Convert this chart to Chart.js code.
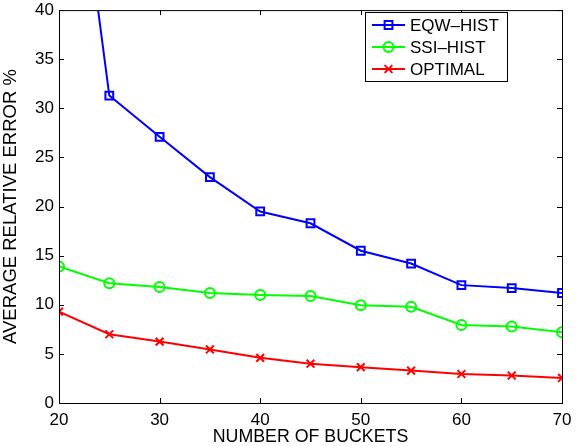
<!DOCTYPE html>
<html>
<head>
<meta charset="utf-8">
<script src="https://cdn.jsdelivr.net/npm/chart.js@4.4.1/dist/chart.umd.min.js"></script>
<style>
  html, body { margin: 0; padding: 0; background: #fff; }
  #wrap { width: 578px; height: 446px; }
</style>
</head>
<body>
<div id="wrap"><canvas id="myChart" width="578" height="446"></canvas></div>
<script>
// numero di bucket (asse x)
var buckets = [20, 25, 30, 35, 40, 45, 50, 55, 60, 65, 70];

// errore relativo medio % per ogni metodo
var eqwHist = [70.4, 31.3, 27.1, 23.0, 19.5, 18.3, 15.5, 14.2, 12.0, 11.7, 11.2];
var ssiHist = [13.9, 12.2, 11.8, 11.2, 11.0, 10.9, 9.95, 9.8, 7.95, 7.8, 7.2];
var optimal = [9.3, 7.0, 6.25, 5.45, 4.6, 4.0, 3.65, 3.3, 2.95, 2.8, 2.55];

var nomiSerie = ['EQW\u2013HIST', 'SSI\u2013HIST', 'OPTIMAL'];

var xTicks = [20, 30, 40, 50, 60, 70];
var yTicks = [0, 5, 10, 15, 20, 25, 30, 35, 40];

var FONT = 'Liberation Sans, Arial, Helvetica, sans-serif';

function punti(valori) {
    return buckets.map(function (b, i) { return { x: b, y: valori[i] }; });
}

// box, tacche interne e legenda in stile MATLAB
var boxPlugin = {
    id: 'boxPlugin',
    afterDraw: function (chart) {
        var ctx = chart.ctx;
        var a = chart.chartArea;
        var xs = chart.scales.x, ys = chart.scales.y;
        ctx.save();
        ctx.strokeStyle = '#000';
        ctx.lineWidth = 1;
        ctx.strokeRect(a.left + 0.5, a.top + 0.5, a.right - a.left, a.bottom - a.top);
        ctx.beginPath();
        xTicks.forEach(function (t) {
            var px = Math.round(xs.getPixelForValue(t)) + 0.5;
            ctx.moveTo(px, a.bottom); ctx.lineTo(px, a.bottom - 5);
            ctx.moveTo(px, a.top); ctx.lineTo(px, a.top + 5);
        });
        yTicks.forEach(function (t) {
            var py = Math.round(ys.getPixelForValue(t)) + 0.5;
            ctx.moveTo(a.left, py); ctx.lineTo(a.left + 5, py);
            ctx.moveTo(a.right, py); ctx.lineTo(a.right - 5, py);
        });
        ctx.stroke();

        // legenda
        var lx = 365, ly = 12, lw = 142, lh = 69;
        ctx.fillStyle = '#fff';
        ctx.fillRect(lx, ly, lw, lh);
        ctx.strokeRect(lx + 0.5, ly + 0.5, lw, lh);
        ctx.font = '17px ' + FONT;
        ctx.textBaseline = 'middle';
        chart.data.datasets.forEach(function (ds, i) {
            var cy = ly + 13 + i * 22;
            ctx.strokeStyle = ds.borderColor;
            ctx.lineWidth = 2;
            ctx.beginPath();
            ctx.moveTo(lx + 7, cy); ctx.lineTo(lx + 40, cy);
            ctx.stroke();
            ctx.fillStyle = 'rgba(0,0,0,0)';
            Chart.helpers.drawPoint(ctx, {
                pointStyle: ds.pointStyle,
                radius: ds.pointRadius,
                rotation: 0,
                borderWidth: 2
            }, lx + 23.5, cy);
            ctx.fillStyle = '#000';
            ctx.fillText(ds.label, lx + 45, cy + 1);
        });
        ctx.restore();
    }
};

function serie(label, valori, colore, stile, raggio) {
    return {
        label: label,
        data: punti(valori),
        borderColor: colore,
        backgroundColor: 'rgba(0,0,0,0)',
        borderWidth: 2,
        pointStyle: stile,
        pointRadius: raggio,
        pointBorderWidth: 2,
        pointBorderColor: colore,
        pointBackgroundColor: 'rgba(0,0,0,0)',
        tension: 0
    };
}

var ctx = document.getElementById('myChart').getContext('2d');

var myChart = new Chart(ctx, {
    type: 'line',
    data: {
        datasets: [
            serie(nomiSerie[0], eqwHist, '#0000ff', 'rect', 5.5),
            serie(nomiSerie[1], ssiHist, '#00ff00', 'circle', 5),
            serie(nomiSerie[2], optimal, '#ff0000', 'crossRot', 5.5)
        ]
    },
    options: {
        responsive: false,
        animation: false,
        events: [],
        layout: { padding: { top: 0, right: 16, left: 0, bottom: 0 } },
        plugins: {
            legend: { display: false },
            tooltip: { enabled: false }
        },
        scales: {
            x: {
                type: 'linear',
                min: 20,
                max: 70,
                afterBuildTicks: function (scale) {
                    scale.ticks = xTicks.map(function (v) { return { value: v }; });
                },
                afterFit: function (scale) {
                    scale.height = 43;
                    scale.paddingLeft = 0;
                    scale.paddingRight = 0;
                },
                grid: { display: false, drawTicks: false },
                border: { display: false },
                ticks: { color: '#000', font: { family: FONT, size: 17, lineHeight: 1 }, padding: 9, maxRotation: 0 },
                title: {
                    display: true,
                    text: 'NUMBER OF BUCKETS',
                    color: '#000',
                    font: { family: FONT, size: 17.8, lineHeight: 1 },
                    padding: { top: 0, bottom: 0 }
                }
            },
            y: {
                min: 0,
                max: 40,
                afterBuildTicks: function (scale) {
                    scale.ticks = yTicks.map(function (v) { return { value: v }; });
                },
                afterFit: function (scale) { scale.width = 59; },
                grid: { display: false, drawTicks: false },
                border: { display: false },
                ticks: { color: '#000', font: { family: FONT, size: 17, lineHeight: 0.6 }, padding: 5 },
                title: {
                    display: true,
                    text: 'AVERAGE RELATIVE ERROR %',
                    color: '#000',
                    font: { family: FONT, size: 18.5 },
                    padding: { top: 0, bottom: 4 }
                }
            }
        }
    },
    plugins: [boxPlugin]
});
</script>
</body>
</html>
